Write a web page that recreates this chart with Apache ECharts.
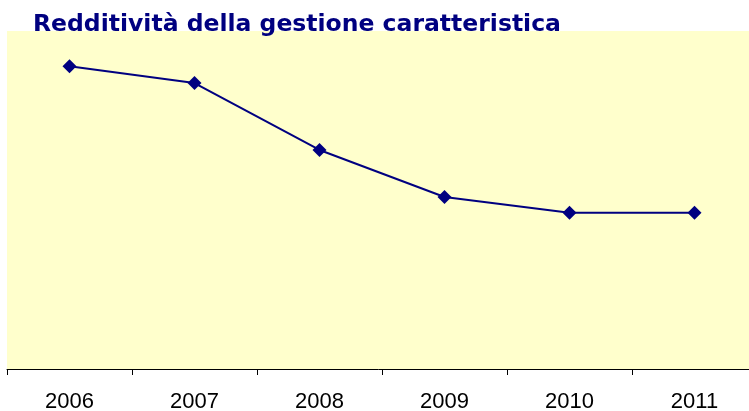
<!DOCTYPE html>
<html>
<head>
<meta charset="utf-8">
<script src="https://cdn.jsdelivr.net/npm/echarts@6/dist/echarts.min.js"></script>
<style>
html,body{margin:0;padding:0;background:#fff;}
#chart{width:749px;height:411px;}
</style>
</head>
<body>
<div id="chart"></div>
<script>
const categories = ['2006', '2007', '2008', '2009', '2010', '2011'];
const values = [8.96, 8.46, 6.48, 5.09, 4.62, 4.62];
const titleText = 'Redditività della gestione caratteristica';

const chart = echarts.init(document.getElementById('chart'), null, {renderer: 'canvas'});
chart.setOption({
  animation: false,
  backgroundColor: '#ffffff',
  title: {
    text: titleText,
    left: 28,
    top: 8,
    textStyle: {
      fontFamily: 'DejaVu Sans',
      fontWeight: 'bold',
      fontSize: 23.5,
      color: '#000080'
    }
  },
  grid: {
    left: 7,
    right: -8,
    top: 31,
    bottom: 42,
    show: true,
    backgroundColor: '#FFFFCC',
    borderWidth: 0,
    containLabel: false,
    outerBoundsMode: 'none'
  },
  xAxis: {
    type: 'category',
    data: categories,
    boundaryGap: true,
    axisLine: {show: true, lineStyle: {color: '#000000', width: 1}},
    axisTick: {show: true, length: 6, lineStyle: {color: '#000000'}},
    axisLabel: {
      margin: 22,
      fontFamily: 'Liberation Sans',
      fontSize: 22,
      color: '#000000'
    },
    splitLine: {show: false}
  },
  yAxis: {
    type: 'value',
    min: 0,
    max: 10,
    show: false,
    splitLine: {show: false}
  },
  series: [{
    type: 'line',
    data: values,
    symbol: 'diamond',
    symbolSize: 14,
    itemStyle: {color: '#000080'},
    lineStyle: {color: '#000080', width: 2}
  }]
});
</script>
</body>
</html>
